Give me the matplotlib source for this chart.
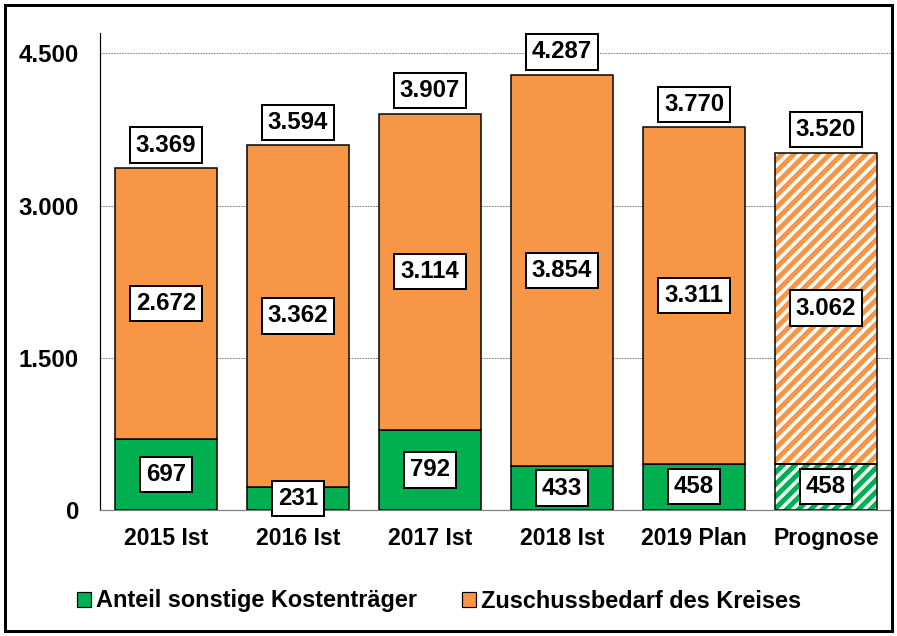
import matplotlib
matplotlib.use("Agg")
import matplotlib.pyplot as plt
from matplotlib.patches import Patch, Rectangle
import numpy as np

categories = ['2015 Ist', '2016 Ist', '2017 Ist', '2018 Ist', '2019 Plan', 'Prognose']
sonstige = [697, 231, 792, 433, 458, 458]
zuschuss = [2672, 3362, 3114, 3854, 3311, 3062]
totals = [3369, 3594, 3907, 4287, 3770, 3520]
yticks = [0, 1500, 3000, 4500]
legend_labels = ['Anteil sonstige Kostenträger', 'Zuschussbedarf des Kreises']

GREEN = '#00B050'
ORANGE = '#F79646'

plt.rcParams['font.family'] = ['Liberation Sans', 'DejaVu Sans']
plt.rcParams['font.weight'] = 'bold'
plt.rcParams['hatch.linewidth'] = 5.0

DPI = 72
fig = plt.figure(figsize=(897 / DPI, 636 / DPI), dpi=DPI)
W, H = 897, 636
ax = fig.add_axes([100 / W, 126 / H, (892 - 100) / W, (510 - 33) / H])

def fmt(v):
    return f"{v:,}".replace(',', '.')

x = np.arange(len(categories))
width = 0.77
n_solid = 5

# solid bars
ax.bar(x[:n_solid], sonstige[:n_solid], width, color=GREEN, edgecolor='black', linewidth=1.5, zorder=3)
ax.bar(x[:n_solid], zuschuss[:n_solid], width, bottom=sonstige[:n_solid], color=ORANGE,
       edgecolor='black', linewidth=1.5, zorder=3)

# hatched forecast bar
ax.bar(x[n_solid:], sonstige[n_solid:], width, color='white', edgecolor=GREEN, hatch='//',
       linewidth=0, zorder=3)
ax.bar(x[n_solid:], zuschuss[n_solid:], width, bottom=sonstige[n_solid:], color='white',
       edgecolor=ORANGE, hatch='//', linewidth=0, zorder=3)
ax.bar(x[n_solid:], sonstige[n_solid:], width, fill=False, edgecolor='black', linewidth=1.5, zorder=4)
ax.bar(x[n_solid:], zuschuss[n_solid:], width, bottom=sonstige[n_solid:], fill=False,
       edgecolor='black', linewidth=1.5, zorder=4)

LFS = 24
box = dict(boxstyle='square,pad=0.26', facecolor='white', edgecolor='black', linewidth=2)
for i in range(len(categories)):
    ax.text(x[i], sonstige[i] / 2, fmt(sonstige[i]), ha='center', va='center',
            fontsize=LFS, fontweight='bold', bbox=box, zorder=6)
    ax.text(x[i], sonstige[i] + zuschuss[i] / 2, fmt(zuschuss[i]), ha='center', va='center',
            fontsize=LFS, fontweight='bold', bbox=box, zorder=6)
    ax.annotate(fmt(totals[i]), (x[i], sonstige[i] + zuschuss[i]), xytext=(0, 23),
                textcoords='offset points', ha='center', va='center',
                fontsize=LFS, fontweight='bold', bbox=box, zorder=6)

ax.set_xlim(-0.5, len(categories) - 0.5)
ax.set_ylim(0, 4700)
ax.set_yticks(yticks)
ax.set_yticklabels([fmt(v) for v in yticks], fontsize=24, fontweight='bold')
ax.set_xticks(x)
ax.set_xticklabels(categories, fontsize=23, fontweight='bold')
ax.tick_params(axis='y', length=0, pad=21)
ax.tick_params(axis='x', length=0, pad=17)

for v in yticks[1:]:
    ax.axhline(v, color='#7f7f7f', linestyle=(0, (2, 1)), linewidth=0.9, zorder=1)

for s in ['top', 'right']:
    ax.spines[s].set_visible(False)
ax.spines['left'].set_color('black')
ax.spines['left'].set_linewidth(1.2)
ax.spines['bottom'].set_color('#7f7f7f')
ax.spines['bottom'].set_linewidth(1.2)

handles = [Patch(facecolor=GREEN, edgecolor='black', linewidth=1.2),
           Patch(facecolor=ORANGE, edgecolor='black', linewidth=1.2)]
fig.legend(handles, legend_labels, loc='center', bbox_to_anchor=(439 / W, 1 - 601 / H),
           ncol=2, frameon=False, prop={'size': 23.5, 'weight': 'bold'},
           handlelength=0.6, handleheight=0.6, handletextpad=0.2, columnspacing=1.9)

fig.patches.append(Rectangle((5 / W, 5 / H), (892 - 5) / W, (631 - 5) / H, transform=fig.transFigure,
                             fill=False, edgecolor='black', linewidth=3))

fig.savefig('out.png', dpi=DPI)
